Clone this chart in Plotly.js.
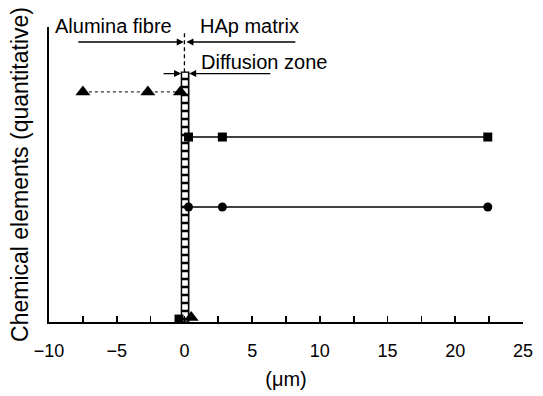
<!DOCTYPE html>
<html>
<head>
<meta charset="utf-8">
<script src="https://cdn.plot.ly/plotly-3.0.1.min.js"></script>
<style>html,body{margin:0;padding:0;background:#fff;}#chart{width:543px;height:396px;}</style>
</head>
<body>
<div id="chart"></div>
<script>
// Data
const triX = [-7.5, -2.7, -0.3];
const triY = [78, 78, 78];
const sqX = [0.3, 2.8, 22.4];
const sqY = [62.7, 62.7, 62.7];
const cirX = [0.3, 2.8, 22.4];
const cirY = [39, 39, 39];
const baseSqX = [-0.4];
const baseSqY = [1];
const baseTriX = [0.5];
const baseTriY = [1.5];
const zoneX = [0.05];
const zoneW = [0.55];
const zoneH = [84.7];
const ifaceX = [0, 0];
const ifaceY = [84.7, 98];
const xTicks = [-10, -5, 0, 5, 10, 15, 20, 25];

const font = 'Liberation Sans, Arial, sans-serif';

const traces = [
  {type:'bar', x: zoneX, y: zoneH, width: zoneW, marker:{color:'#fff', line:{color:'#000', width:1.3},
    pattern:{shape:'+', size:8, solidity:0.5, fgcolor:'#000', bgcolor:'#fff'}}, hoverinfo:'skip'},
  {type:'scatter', mode:'lines', x: ifaceX, y: ifaceY, line:{color:'#000', width:1.3, dash:'4px,3px'}},
  {type:'scatter', mode:'lines+markers', x: triX, y: triY, line:{color:'#000', width:1, dash:'dot'},
    marker:{symbol:'triangle-up', size:13, color:'#000'}},
  {type:'scatter', mode:'lines+markers', x: sqX, y: sqY, line:{color:'#000', width:1.4},
    marker:{symbol:'square', size:9, color:'#000'}},
  {type:'scatter', mode:'lines+markers', x: cirX, y: cirY, line:{color:'#000', width:1.4},
    marker:{symbol:'circle', size:9, color:'#000'}},
  {type:'scatter', mode:'markers', x: baseSqX, y: baseSqY, marker:{symbol:'square', size:9, color:'#000'}, cliponaxis:false},
  {type:'scatter', mode:'markers', x: baseTriX, y: baseTriY, marker:{symbol:'triangle-up', size:13, color:'#000'}, cliponaxis:false}
];

const arrow = (x, y, ax, ay) => ({x, y, ax, ay, xref:'x', yref:'y', axref:'x', ayref:'y', text:'', showarrow:true,
  arrowhead:2, arrowsize:1, arrowwidth:1.4, arrowcolor:'#000', standoff:0, startstandoff:0});

const layout = {
  width:543, height:396,
  margin:{l:49, r:20, t:27, b:74},
  paper_bgcolor:'#fff', plot_bgcolor:'#fff',
  showlegend:false,
  font:{family:font, size:18, color:'#000'},
  xaxis:{range:[-10,25], tickvals:xTicks, ticks:'inside', ticklen:6, tickwidth:1.8, tickcolor:'#000',
    showline:true, linecolor:'#000', linewidth:2, showgrid:false, zeroline:false,
    minor:{dtick:2.5, tick0:0, ticks:'inside', ticklen:6, tickwidth:1.8, tickcolor:'#000', showgrid:false},
    ticklabelstandoff:11,
    tickfont:{size:18, family:font}, title:{text:'(μm)', font:{size:20, family:font}, standoff:12}},
  yaxis:{range:[0,100], showticklabels:false, ticks:'', showline:true, linecolor:'#000', linewidth:2,
    showgrid:false, zeroline:false, title:{text:'Chemical elements (quantitative)', font:{size:23, family:font}, standoff:12}},
  annotations:[
    {x:-5.25, y:1.003, xref:'x', yref:'paper', text:'Alumina fibre', showarrow:false, font:{size:20, family:font}, xanchor:'center', yanchor:'middle'},
    {x:4.8, y:1.003, xref:'x', yref:'paper', text:'HAp matrix', showarrow:false, font:{size:20, family:font}, xanchor:'center', yanchor:'middle'},
    {x:5.9, y:88.2, xref:'x', yref:'y', text:'Diffusion zone', showarrow:false, font:{size:20, family:font}, xanchor:'center', yanchor:'middle'},
    arrow(-0.05, 94.9, -7.95, 94.9),
    arrow(0.15, 94.9, 8.3, 94.9),
    arrow(-0.25, 84.2, -1.65, 84.2),
    arrow(0.35, 84.2, 6.45, 84.2)
  ]
};

Plotly.newPlot('chart', traces, layout, {displayModeBar:false, staticPlot:true});
</script>
</body>
</html>
